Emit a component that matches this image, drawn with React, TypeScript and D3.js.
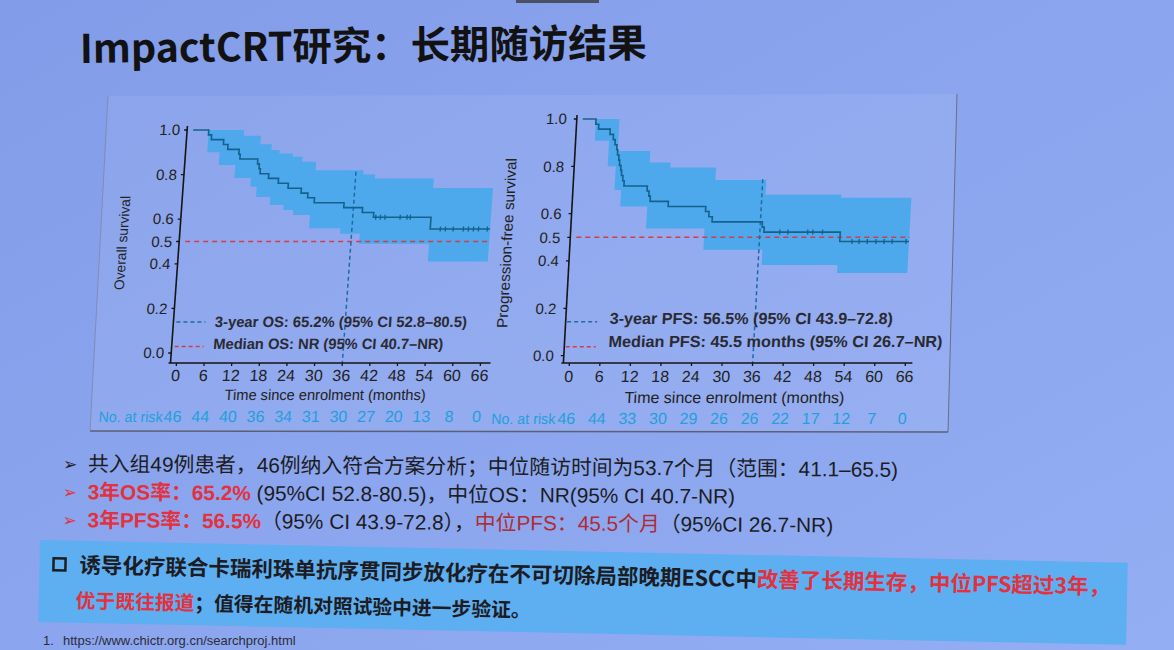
import React from "react";
import * as d3 from "d3";

// ---------- data ----------
const MONTH_TICKS = [0, 6, 12, 18, 24, 30, 36, 42, 48, 54, 60, 66];
const Y_TICKS = [0, 0.2, 0.4, 0.5, 0.6, 0.8, 1.0];
const OS_RISK = [46, 44, 40, 36, 34, 31, 30, 27, 20, 13, 8, 0];
const PFS_RISK = [46, 44, 33, 30, 29, 26, 26, 22, 17, 12, 7, 0];

const OS_T = [0, 3.4, 4.1, 6.8, 7.8, 10.3, 10.6, 14.5, 14.9, 15.2, 17.1, 19.3, 21.5, 24.4, 25.9, 27.4, 33.9, 38.0, 40.5, 53.0];
const OS_S = [1, 0.978, 0.957, 0.935, 0.913, 0.891, 0.87, 0.848, 0.826, 0.804, 0.783, 0.761, 0.739, 0.717, 0.696, 0.674, 0.652, 0.63, 0.609, 0.556];
const OS_END = 66;
const OS_CENSOR = [41, 42, 43, 46.3, 47.8, 48.5, 55.2, 56.3, 58, 60.2, 61.3, 62.4, 63.5, 65.4];
const OS_UP_T = [3.4, 11.1, 14.8, 17.3, 19.1, 22, 24.2, 27.2, 37.6, 40.2, 53];
const OS_UP_V = [1, 0.974, 0.936, 0.91, 0.895, 0.88, 0.858, 0.82, 0.8, 0.783, 0.74];
const OS_LO_T = [3.4, 6.1, 9.7, 13.3, 14.7, 17.8, 20.8, 23, 26.7, 33.5, 37.8, 53];
const OS_LO_V = [0.9, 0.843, 0.785, 0.746, 0.7, 0.664, 0.641, 0.619, 0.559, 0.535, 0.49, 0.41];

const PFS_T = [0, 2.6, 3.2, 5.5, 6.2, 6.6, 7.0, 7.2, 7.5, 7.7, 8.0, 8.2, 8.5, 8.8, 13.4, 13.8, 14.1, 17.7, 25.1, 25.8, 26.5, 36.4, 36.8, 51.8];
const PFS_S = [1, 0.978, 0.957, 0.935, 0.913, 0.891, 0.87, 0.848, 0.826, 0.804, 0.783, 0.761, 0.739, 0.717, 0.696, 0.674, 0.652, 0.63, 0.609, 0.587, 0.565, 0.543, 0.522, 0.482];
const PFS_END = 65.4;
const PFS_CENSOR = [39.9, 41.5, 45.4, 46.4, 48.3, 54.2, 55.6, 57.2, 58.9, 60.5, 62.1, 64.8];
const PFS_UP_T = [2.6, 7.2, 13.6, 17.7, 26.7, 36.7, 51.6];
const PFS_UP_V = [1, 0.865, 0.816, 0.795, 0.742, 0.68, 0.667];
const PFS_LO_T = [2.6, 5.4, 7.0, 8.3, 13.6, 25.1, 36.7, 51.6];
const PFS_LO_V = [0.908, 0.8, 0.7, 0.63, 0.537, 0.447, 0.383, 0.349];

const OS_LEG1 = "3-year OS: 65.2% (95% CI 52.8–80.5)";
const OS_LEG2 = "Median OS: NR (95% CI 40.7–NR)";
const PFS_LEG1 = "3-year PFS: 56.5% (95% CI 43.9–72.8)";
const PFS_LEG2 = "Median PFS: 45.5 months (95% CI 26.7–NR)";

// ---------- styles ----------
const FIG = "'Liberation Sans Narrow','Arial Narrow','Liberation Sans',Arial,sans-serif";
const CJK = "'Liberation Sans','Noto Sans CJK SC',sans-serif";
const CJK_TITLE = "'Noto Sans CJK SC',sans-serif";
const BAND = "#4ea8ec";
const CURVE = "#15618d";
const RED = "#d63c48";
const VBLUE = "#1d6aa6";
const RISK = "#249fdc";
const INK = "#1c1c22";
const TXTRED = "#e2323f";

type Geo = {
  k: number; anchorY: number; x0: number; x1: number; yTop: number; yBottom: number;
  axisX: number; axisTop: number; axisY: number; xAxisStart: number; xAxisEnd: number;
  yTickRight: number; yTickFont: number; xTickBase: number; xTickFont: number;
  xTitleX: number; xTitleBase: number; xTitleFont: number; xTitleLen: number;
  yTitleX: number; yTitleY: number; yTitleFont: number; yTitleLen: number;
  riskBase: number; riskLabelRight: number; riskFont: number;
  leg1Base: number; leg2Base: number; dash1Y: number; dash2Y: number; dashX0: number; dashX1: number;
  legTextX: number; legFont: number; leg1Len: number; leg2Len: number; vTop: number; redEnd: number;
};

function stepAt(ts: number[], vs: number[], t: number) {
  let v = vs[0];
  for (let i = 0; i < ts.length; i++) if (ts[i] <= t + 1e-9) v = vs[i];
  return v;
}

function KMPanel(p: {
  g: Geo; times: number[]; surv: number[]; end: number; censor: number[];
  upT: number[]; upV: number[]; loT: number[]; loV: number[]; risk: number[];
  yTitle: string; leg1: string; leg2: string;
}) {
  const { g } = p;
  const x = d3.scaleLinear().domain([0, 66]).range([g.x0, g.x1]);
  const y = d3.scaleLinear().domain([0, 1]).range([g.yBottom, g.yTop]);
  const pts: [number, number][] = p.times.map((t, i) => [t, p.surv[i]] as [number, number]);
  pts.push([p.end, p.surv[p.surv.length - 1]]);
  const line = d3.line<[number, number]>().x(d => x(d[0])).y(d => y(d[1])).curve(d3.curveStepAfter);
  const bandTs = Array.from(new Set([...p.upT, ...p.loT, p.end]))
    .filter(t => t >= p.loT[0] && t <= p.end).sort((a, b) => a - b);
  const area = d3.area<number>()
    .x(t => x(t)).y0(t => y(stepAt(p.loT, p.loV, t))).y1(t => y(stepAt(p.upT, p.upV, t)))
    .curve(d3.curveStepAfter);
  const angle = (-Math.atan(g.k) * 180) / Math.PI;
  return (
    <g transform={`translate(${g.k * g.anchorY},0) skewX(${angle})`}>
      <path d={area(bandTs) || ""} fill={BAND} />
      <line x1={x(0)} x2={x(g.redEnd)} y1={y(0.5)} y2={y(0.5)} stroke={RED} strokeWidth={1.6} strokeDasharray="5,4" />
      <line x1={x(36)} x2={x(36)} y1={y(g.vTop)} y2={g.axisY} stroke={VBLUE} strokeWidth={1.5} strokeDasharray="4,3" />
      <path d={line(pts) || ""} fill="none" stroke={CURVE} strokeWidth={1.6} />
      {p.censor.map((t, i) => {
        const cy = y(stepAt(p.times, p.surv, t));
        return <line key={i} x1={x(t)} x2={x(t)} y1={cy - 2.5} y2={cy + 2.5} stroke={CURVE} strokeWidth={1.3} />;
      })}
      {/* axes */}
      <line x1={g.axisX} x2={g.axisX} y1={g.axisTop} y2={g.axisY} stroke="#151515" strokeWidth={1.6} />
      <line x1={g.xAxisStart} x2={g.xAxisEnd} y1={g.axisY} y2={g.axisY} stroke="#151515" strokeWidth={1.6} />
      {Y_TICKS.map(v => (
        <g key={v}>
          <line x1={g.axisX - 3} x2={g.axisX} y1={y(v)} y2={y(v)} stroke="#151515" strokeWidth={1.3} />
          <text x={g.yTickRight} y={y(v)} dy="0.35em" textAnchor="end" fontFamily={FIG} fontSize={g.yTickFont} fill="#222">
            {v.toFixed(1)}
          </text>
        </g>
      ))}
      {MONTH_TICKS.map(m => (
        <g key={m}>
          <line x1={x(m)} x2={x(m)} y1={g.axisY} y2={g.axisY + 3} stroke="#151515" strokeWidth={1.3} />
          <text x={x(m)} y={g.xTickBase} textAnchor="middle" fontFamily={FIG} fontSize={g.xTickFont} fill="#222">{m}</text>
        </g>
      ))}
      <text x={g.xTitleX} y={g.xTitleBase} textAnchor="middle" fontFamily={FIG} fontSize={g.xTitleFont} fill="#222"
        textLength={g.xTitleLen} lengthAdjust="spacingAndGlyphs">Time since enrolment (months)</text>
      <text transform={`translate(${g.yTitleX},${g.yTitleY}) rotate(-90)`} textAnchor="middle" fontFamily={FIG}
        fontSize={g.yTitleFont} fill="#222" textLength={g.yTitleLen} lengthAdjust="spacingAndGlyphs">{p.yTitle}</text>
      {/* legend */}
      <line x1={g.dashX0} x2={g.dashX1} y1={g.dash1Y} y2={g.dash1Y} stroke={VBLUE} strokeWidth={1.6} strokeDasharray="4,3" />
      <line x1={g.dashX0} x2={g.dashX1} y1={g.dash2Y} y2={g.dash2Y} stroke={RED} strokeWidth={1.6} strokeDasharray="4,3" />
      <text x={g.legTextX} y={g.leg1Base} fontFamily={FIG} fontWeight="bold" fontSize={g.legFont} fill="#2a2a33"
        textLength={g.leg1Len} lengthAdjust="spacingAndGlyphs">{p.leg1}</text>
      <text x={g.legTextX} y={g.leg2Base} fontFamily={FIG} fontWeight="bold" fontSize={g.legFont} fill="#2a2a33"
        textLength={g.leg2Len} lengthAdjust="spacingAndGlyphs">{p.leg2}</text>
      {/* risk table */}
      <text x={g.riskLabelRight} y={g.riskBase} textAnchor="end" fontFamily={FIG} fontSize={g.riskFont - 1} fill={RISK}
        textLength={64} lengthAdjust="spacingAndGlyphs">No. at risk</text>
      {p.risk.map((n, i) => (
        <text key={i} x={x(MONTH_TICKS[i])} y={g.riskBase} textAnchor="middle" fontFamily={FIG} fontSize={g.riskFont} fill={RISK}>{n}</text>
      ))}
    </g>
  );
}

const OS_GEO: Geo = {
  k: 0.0714, anchorY: 370, x0: 176, x1: 480, yTop: 130, yBottom: 353,
  axisX: 170, axisTop: 126, axisY: 363, xAxisStart: 168, xAxisEnd: 490,
  yTickRight: 163, yTickFont: 15, xTickBase: 381, xTickFont: 16,
  xTitleX: 327, xTitleBase: 400, xTitleFont: 15, xTitleLen: 201,
  yTitleX: 118, yTitleY: 243, yTitleFont: 14, yTitleLen: 94,
  riskBase: 422, riskLabelRight: 166, riskFont: 16,
  leg1Base: 327, leg2Base: 349, dash1Y: 322, dash2Y: 346.5, dashX0: 173, dashX1: 202,
  legTextX: 211.5, legFont: 15, leg1Len: 252, leg2Len: 230, vTop: 0.813, redEnd: 66,
};

const PFS_GEO: Geo = {
  k: 0.055, anchorY: 370, x0: 569, x1: 905, yTop: 119, yBottom: 355.6,
  axisX: 563, axisTop: 115, axisY: 363, xAxisStart: 561, xAxisEnd: 912,
  yTickRight: 553, yTickFont: 15, xTickBase: 382, xTickFont: 16,
  xTitleX: 736, xTitleBase: 403, xTitleFont: 16, xTitleLen: 220,
  yTitleX: 505, yTitleY: 243, yTitleFont: 15, yTitleLen: 170,
  riskBase: 424, riskLabelRight: 558, riskFont: 16,
  leg1Base: 324, leg2Base: 347, dash1Y: 321.7, dash2Y: 346.7, dashX0: 564.5, dashX1: 594.5,
  legTextX: 607, legFont: 16, leg1Len: 283, leg2Len: 334, vTop: 0.745, redEnd: 65.5,
};

export default function App() {
  return (
    <svg width={1174} height={650} viewBox="0 0 1174 650"
      style={{ position: "absolute", left: 0, top: 0, display: "block" }}>
      <defs>
        <linearGradient id="bg" x1="0" y1="0" x2="1" y2="1">
          <stop offset="0" stopColor="#829ce9" />
          <stop offset="0.5" stopColor="#8ba5ee" />
          <stop offset="1" stopColor="#93aef3" />
        </linearGradient>
      </defs>
      <rect x={0} y={0} width={1174} height={650} fill="url(#bg)" />
      <rect x={516} y={0} width={83} height={3} fill="#4b5062" />

      {/* title */}
      <text x={80} y={63} transform="rotate(-0.6 80 63)" fontFamily={CJK_TITLE} fontWeight="bold" fontSize={39.4} fill="#121212">
        ImpactCRT研究：长期随访结果
      </text>

      {/* chart panel */}
      <polygon points="108,96 957,94 948,432 90,431" fill="rgba(255,255,255,0.07)" />
      <line x1={957} y1={94} x2={948} y2={432} stroke="#6a6f86" strokeWidth={1} />
      <line x1={90} y1={431} x2={948} y2={432} stroke="#5c6075" strokeWidth={1.5} />
      <line x1={108} y1={96} x2={90} y2={431} stroke="#7d86aa" strokeWidth={0.8} />

      <KMPanel g={OS_GEO} times={OS_T} surv={OS_S} end={OS_END} censor={OS_CENSOR}
        upT={OS_UP_T} upV={OS_UP_V} loT={OS_LO_T} loV={OS_LO_V} risk={OS_RISK}
        yTitle="Overall survival" leg1={OS_LEG1} leg2={OS_LEG2} />
      <KMPanel g={PFS_GEO} times={PFS_T} surv={PFS_S} end={PFS_END} censor={PFS_CENSOR}
        upT={PFS_UP_T} upV={PFS_UP_V} loT={PFS_LO_T} loV={PFS_LO_V} risk={PFS_RISK}
        yTitle="Progression-free survival" leg1={PFS_LEG1} leg2={PFS_LEG2} />

      {/* bullets */}
      <g transform="rotate(0.4 66 465)" fontFamily={CJK} fontSize={20.8}>
        <text x={63} y={470} fontFamily="'DejaVu Sans',sans-serif" fontSize={17} fill="#222">➢</text>
        <text x={88} y={471} fill={INK}>共入组49例患者，46例纳入符合方案分析；中位随访时间为53.7个月（范围：41.1–65.5)</text>
        <text x={63} y={498} fontFamily="'DejaVu Sans',sans-serif" fontSize={17} fill={TXTRED}>➢</text>
        <text x={88} y={499} fill={INK}>
          <tspan fill={TXTRED} fontWeight="bold">3年OS率：65.2%</tspan>
          <tspan> (95%CI 52.8-80.5)，中位OS：NR(95% CI 40.7-NR)</tspan>
        </text>
        <text x={63} y={526} fontFamily="'DejaVu Sans',sans-serif" fontSize={17} fill={TXTRED}>➢</text>
        <text x={88} y={527} fill={INK}>
          <tspan fill={TXTRED} fontWeight="bold">3年PFS率：56.5%</tspan>
          <tspan>（95% CI 43.9-72.8），</tspan>
          <tspan fill="#b02c34">中位PFS：45.5个月</tspan>
          <tspan>（95%CI 26.7-NR)</tspan>
        </text>
      </g>

      {/* conclusion box */}
      <g transform="rotate(1.2 40 540)">
        <rect x={40} y={540} width={1088} height={82} fill="#5eaef2" />
        <rect x={54} y={558} width={12} height={12} fill="none" stroke="#1d1d1d" strokeWidth={2.5} />
        <text x={80} y={572} fontFamily={CJK_TITLE} fontWeight="bold" fontSize={21.5} fill={INK}>
          <tspan>诱导化疗联合卡瑞利珠单抗序贯同步放化疗在不可切除局部晚期ESCC中</tspan>
          <tspan fill={TXTRED}>改善了长期生存，中位PFS超过3年，</tspan>
        </text>
        <text x={77} y={607} fontFamily={CJK_TITLE} fontWeight="bold" fontSize={19.8} fill={INK}>
          <tspan fill={TXTRED}>优于既往报道</tspan>
          <tspan>；值得在随机对照试验中进一步验证。</tspan>
        </text>
      </g>

      {/* footnote */}
      <g fontFamily="'Liberation Sans',Arial,sans-serif" fontSize={13} fill="#2c2c38">
        <text x={43} y={645}>1.</text>
        <text x={63} y={645}>https://www.chictr.org.cn/searchproj.html</text>
      </g>
    </svg>
  );
}
